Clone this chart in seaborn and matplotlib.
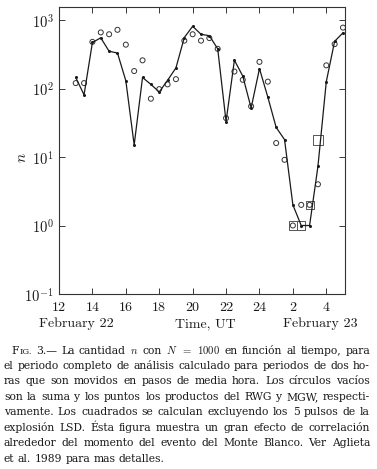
import numpy as np
import pandas as pd
import matplotlib
matplotlib.use("Agg")
import matplotlib.pyplot as plt
import seaborn as sns

# ---------------- data ----------------
hours = [13.0, 13.5, 14.0, 14.5, 15.0, 15.5, 16.0, 16.5, 17.0, 17.5, 18.0,
         18.5, 19.0, 19.5, 20.0, 20.5, 21.0, 21.5, 22.0, 22.5, 23.0, 23.5,
         24.0, 24.5, 25.0, 25.5, 26.0, 26.5, 27.0, 27.5, 28.0, 28.5, 29.0]
product_n = [145, 81, 470, 550, 350, 330, 130, 15, 145, 115, 89,
             132, 200, 555, 810, 620, 590, 380, 33, 259, 152, 52,
             195, 75, 27, 18, 2.0, 1.0, 1.0, 7.3, 126, 490, 650]
sum_n = [120, 120, 480, 660, 620, 720, 437, 180, 258, 71, 98,
         115, 137, 500, 620, 500, 545, 380, 37, 177, 134, 55,
         245, 126, 16, 9.1, 1.0, 2.0, 2.0, 4.0, 218, 445, 775]
square_hours = [26.0, 26.5, 27.0, 27.5]
square_n = [1.0, 1.0, 2.0, 18.0]

xtick_values = [12, 14, 16, 18, 20, 22, 24, 26, 28]
xtick_labels = ["12", "14", "16", "18", "20", "22", "24", "2", "4"]
ytick_values = [0.1, 1, 10, 100, 1000]
ytick_labels = [r"$10^{-1}$", r"$10^{0}$", r"$10^{1}$", r"$10^{2}$", r"$10^{3}$"]
date_labels = ["February 22", "Time, UT", "February 23"]

caption_lines = [
    "FIG. 3.— La cantidad $n$ con $N$ $=$ $1000$ en función al tiempo, para",
    "el periodo completo de análisis calculado para periodos de dos ho-",
    "ras que son movidos en pasos de media hora. Los círculos vacíos",
    "son la suma y los puntos los productos del RWG y MGW, respecti-",
    "vamente. Los cuadrados se calculan excluyendo los 5 pulsos de la",
    "explosión LSD. Ésta figura muestra un gran efecto de correlación",
    "alrededor del momento del evento del Monte Blanco. Ver Aglieta",
    "et al. 1989 para mas detalles.",
]

# ---------------- style ----------------
sns.set_theme(style="ticks")
plt.rcParams["font.family"] = ["DejaVu Serif"]
plt.rcParams["mathtext.fontset"] = "cm"

W, H = 377, 469
fig = plt.figure(figsize=(W / 100, H / 100), dpi=100)
fig.patch.set_facecolor("white")

def fx(px):
    return px / W

def fy(py):
    return 1 - py / H

ax = fig.add_axes([fx(59), fy(294), fx(345) - fx(59), fy(7) - fy(294)])
ax.set_facecolor("white")

df_line = pd.DataFrame({"t": hours, "n": product_n})
df_sum = pd.DataFrame({"t": hours, "n": sum_n})
df_sq = pd.DataFrame({"t": square_hours, "n": square_n})

ink = "#1a1a1a"
sns.lineplot(data=df_line, x="t", y="n", ax=ax, color=ink, lw=0.9,
             marker="o", markersize=2.2, markeredgewidth=0,
             estimator=None, sort=False)
sns.scatterplot(data=df_sum, x="t", y="n", ax=ax, marker="o", s=13,
                facecolor="none", edgecolor="#333333", linewidth=0.7)
sns.scatterplot(data=df_sq.iloc[:3], x="t", y="n", ax=ax, marker="s", s=34,
                facecolor="none", edgecolor="#555555", linewidth=0.7)
sns.scatterplot(data=df_sq.iloc[3:], x="t", y="n", ax=ax, marker="s", s=52,
                facecolor="none", edgecolor="#555555", linewidth=0.7)

ax.set_yscale("log")
ax.set_xlim(12, 29.12)
ax.set_ylim(0.1, 1550)
ax.set_xticks(xtick_values)
ax.set_xticklabels(xtick_labels, fontfamily="cmr10")
ax.set_yticks(ytick_values)
ax.set_yticklabels(ytick_labels)
ax.yaxis.set_minor_locator(matplotlib.ticker.NullLocator())
ax.xaxis.set_minor_locator(matplotlib.ticker.NullLocator())
ax.tick_params(axis="both", which="major", direction="in", length=4,
               width=0.6, colors=ink, top=True, right=True)
ax.tick_params(axis="x", pad=5.5, labelsize=10)
ax.tick_params(axis="y", pad=4, labelsize=10.5)
for sp in ax.spines.values():
    sp.set_linewidth(0.8)
    sp.set_color("#333333")
ax.set_xlabel("")
ax.set_ylabel("")

fig.text(fx(21.7), fy(158), r"$n$", rotation=90, fontsize=11,
         ha="center", va="center", color=ink)

date_x = [76.7, 205, 320.7]
for s, xp in zip(date_labels, date_x):
    fig.text(fx(xp), fy(327.5), s, fontfamily="cmr10",
             fontsize=10, ha="center", va="baseline", color=ink)

# ---------------- caption (justified) ----------------
fig.canvas.draw()
rend = fig.canvas.get_renderer()
CAPF = ["DejaVu Serif"]

def pieces(word, fs):
    if word == "FIG.":
        return [("F", fs), ("IG.", fs * 0.78)]
    return [(word, fs)]

def text_w(s, fs):
    t = fig.text(0, 0, s, fontsize=fs, family=CAPF)
    w = t.get_window_extent(renderer=rend).width
    t.remove()
    return w

def word_w(word, fs):
    return sum(text_w(s, f) for s, f in pieces(word, fs))

def space_w(fs):
    return text_w("a a", fs) - text_w("aa", fs)

left_px = [11.7] + [4.0] * 7
right_px = 370.0

fs0 = 10.0
ratios = []
for i, line in enumerate(caption_lines[:-1]):
    words = line.split(" ")
    nat = sum(word_w(w, fs0) for w in words) + (len(words) - 1) * space_w(fs0)
    ratios.append((right_px - left_px[i]) / nat)
fs = fs0 * min(ratios)

for i, line in enumerate(caption_lines):
    words = line.split(" ")
    widths = [word_w(w, fs) for w in words]
    ybase = fy(353.5 + i * 15.48)
    if i < len(caption_lines) - 1:
        gap = (right_px - left_px[i] - sum(widths)) / (len(words) - 1)
    else:
        gap = space_w(fs)
    xcur = left_px[i]
    for w, wd in zip(words, widths):
        xx = xcur
        for s, f in pieces(w, fs):
            fig.text(fx(xx), ybase, s, fontsize=f, family=CAPF,
                     ha="left", va="baseline", color=ink)
            xx += text_w(s, f)
        xcur += wd + gap

fig.savefig("out.png", dpi=100, facecolor="white")
